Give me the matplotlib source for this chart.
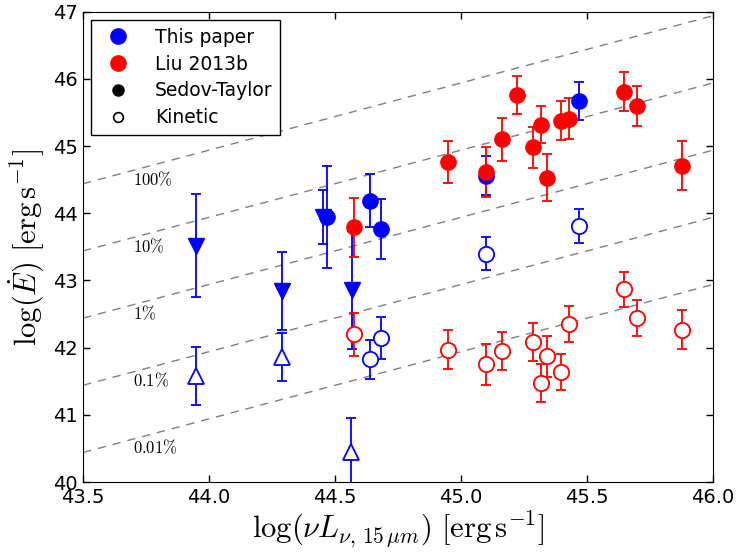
import matplotlib
matplotlib.use('Agg')
import matplotlib.pyplot as plt
import numpy as np
from matplotlib.lines import Line2D

plt.rcParams['mathtext.fontset'] = 'cm'
plt.rcParams['xtick.direction'] = 'in'
plt.rcParams['ytick.direction'] = 'in'
plt.rcParams['xtick.top'] = True
plt.rcParams['ytick.right'] = True

# this paper, Sedov-Taylor (filled) and kinetic (open)
blue_tri_x = [43.95, 44.29, 44.453, 44.569]
blue_tri_y = [43.52, 42.84, 43.94, 42.86]
blue_tri_err = [0.77, 0.58, 0.40, 0.88]

blue_otri_x = [43.95, 44.29, 44.565]
blue_otri_y = [41.58, 41.86, 40.45]
blue_otri_err = [0.43, 0.36, 0.50]

blue_x = [44.467, 44.639, 44.683, 45.10, 45.47]
blue_y = [43.95, 44.19, 43.77, 44.56, 45.67]
blue_err = [0.76, 0.40, 0.45, 0.29, 0.28]

blue_open_x = [44.639, 44.683, 45.10, 45.47]
blue_open_y = [41.83, 42.14, 43.40, 43.81]
blue_open_err = [0.29, 0.31, 0.25, 0.25]

# Liu 2013b
red_x = [44.575, 44.949, 45.10, 45.161, 45.222, 45.285, 45.316, 45.342,
         45.395, 45.429, 45.645, 45.697, 45.875]
red_y = [43.79, 44.76, 44.61, 45.10, 45.76, 44.98, 45.32, 44.53,
         45.38, 45.41, 45.81, 45.60, 44.71]
red_err = [0.44, 0.31, 0.37, 0.32, 0.28, 0.30, 0.28, 0.35,
           0.29, 0.30, 0.29, 0.30, 0.36]

red_open_x = [44.575, 44.949, 45.10, 45.161, 45.285, 45.316, 45.342,
              45.395, 45.429, 45.645, 45.697, 45.875]
red_open_y = [42.20, 41.97, 41.75, 41.95, 42.08, 41.47, 41.87,
              41.64, 42.35, 42.87, 42.44, 42.27]
red_open_err = [0.32, 0.29, 0.30, 0.28, 0.28, 0.28, 0.30,
                0.27, 0.27, 0.26, 0.27, 0.29]

# efficiency lines log(E) = log(L) + offset
line_offsets = [0.94, -0.06, -1.06, -2.06, -3.06]
line_labels = [r'$100\%$', r'$10\%$', r'$1\%$', r'$0.1\%$', r'$0.01\%$']
label_y = [44.5, 43.5, 42.5, 41.5, 40.5]

fig = plt.figure(figsize=(7.38, 5.59), dpi=100)
ax = fig.add_axes([0.1125, 0.1377, 0.8537, 0.8413])

xx = np.array([43.5, 46.0])
for off in line_offsets:
	ax.plot(xx, xx + off, color='0.5', linestyle='--', dashes=(6, 5), lw=1, zorder=1)
for lab, yl in zip(line_labels, label_y):
	ax.text(43.7, yl, lab, fontsize=12, ha='left', va='center')

eb = dict(capsize=3.5, elinewidth=1.3, capthick=1.3, linestyle='none')

ax.errorbar(blue_tri_x, blue_tri_y, yerr=blue_tri_err, marker='v', ms=11,
            color='b', mec='b', **eb)
ax.errorbar(blue_otri_x, blue_otri_y, yerr=blue_otri_err, marker='^', ms=11,
            color='b', mfc='w', mec='b', mew=1.3, **eb)
ax.errorbar(blue_x, blue_y, yerr=blue_err, marker='o', ms=11,
            color='b', mec='b', **eb)
ax.errorbar(blue_open_x, blue_open_y, yerr=blue_open_err, marker='o', ms=11,
            color='b', mfc='w', mec='b', mew=1.3, **eb)
ax.errorbar(red_x, red_y, yerr=red_err, marker='o', ms=11,
            color='r', mec='r', **eb)
ax.errorbar(red_open_x, red_open_y, yerr=red_open_err, marker='o', ms=11,
            color='r', mfc='w', mec='r', mew=1.3, **eb)

ax.set_xlim(43.5, 46.0)
ax.set_ylim(40, 47)
ax.set_xticks(np.arange(43.5, 46.01, 0.5))
ax.set_xticklabels(['%.1f' % v for v in np.arange(43.5, 46.01, 0.5)])
ax.tick_params(labelsize=14, length=5, width=1, pad=4)

ax.set_xlabel(r'$\log(\nu L_{\nu,\,15\,\mu m})\ [\mathrm{erg\,s^{-1}}]$', fontsize=22, labelpad=2)
ax.set_ylabel(r'$\log(\dot{E})\ [\mathrm{erg\,s^{-1}}]$', fontsize=22, labelpad=4)

handles = [
	Line2D([], [], ls='none', marker='o', ms=11, color='b'),
	Line2D([], [], ls='none', marker='o', ms=11, color='r'),
	Line2D([], [], ls='none', marker='o', ms=8, color='k'),
	Line2D([], [], ls='none', marker='o', ms=7, mfc='w', mec='k', mew=1.2),
]
leg = ax.legend(handles, ['This paper', 'Liu 2013b', 'Sedov-Taylor', 'Kinetic'],
                loc='upper left', numpoints=1, fontsize=13.5, fancybox=False,
                framealpha=1, edgecolor='k', borderaxespad=0.45,
                handletextpad=1.0, labelspacing=0.42)
leg.get_frame().set_linewidth(1)

fig.savefig('out.png', dpi=100)
